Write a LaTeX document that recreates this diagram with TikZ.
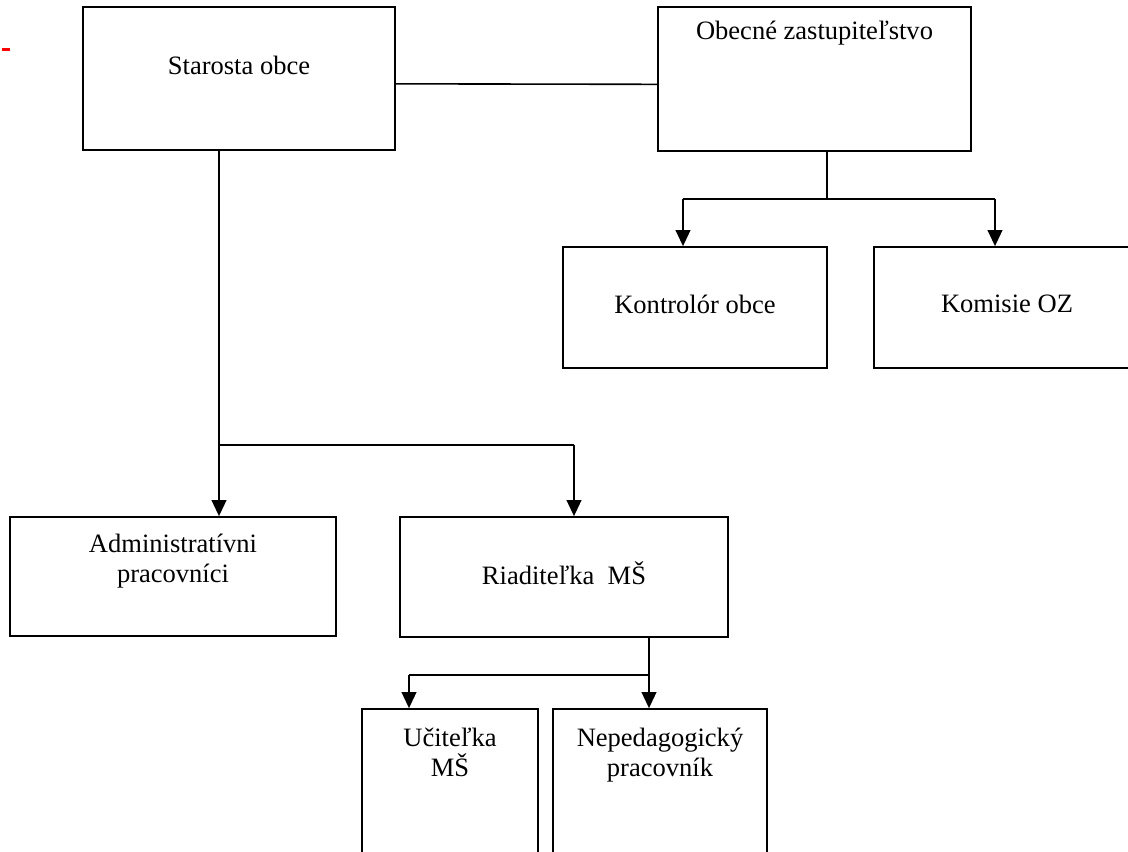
\documentclass[tikz,border=0pt]{standalone}
\usepackage{fontspec}
\setmainfont{Liberation Serif}
\usetikzlibrary{positioning}
\usetikzlibrary{arrows.meta}

\begin{document}
\begin{tikzpicture}[x=0.75pt, y=-0.75pt,
  box/.style = {draw, line width=1.3pt, inner sep=0pt},
  txt/.style = {inner sep=0pt, align=center, font=\fontsize{19.9}{22.5}\selectfont},
  arr/.style = {line width=1.4pt, -{Triangle[length=12pt, width=11pt]}},
  ln/.style = {line width=1.2pt}]
\clip (0,0) rectangle (1128,852);
% boxes
\node[box, minimum width=234pt, minimum height=107.25pt] (star) at (239,78.5) {};
\node[box, minimum width=234.75pt, minimum height=108pt] (obec) at (814.5,79) {};
\node[box, minimum width=198pt, minimum height=90.75pt] (kontr) at (695,307.5) {};
\node[box, minimum width=199.5pt, minimum height=90.75pt] (komis) at (1007,307.5) {};
\node[box, minimum width=244.5pt, minimum height=89.25pt] (adm) at (173,576.5) {};
\node[box, minimum width=246pt, minimum height=90pt] (riad) at (564,577) {};
\node[box, minimum width=132pt, minimum height=128.25pt] (ucit) at (450,794.5) {};
\node[box, minimum width=160.5pt, minimum height=128.25pt] (neped) at (660,794.5) {};
% texts
\node[txt, anchor=base] (starT) at (239,75) {Starosta obce};
\node[txt, anchor=base] (obecT) at (814.5,40) {Obecné zastupiteľstvo};
\node[txt, anchor=base] (kontrT) at (695,314) {Kontrolór obce};
\node[txt, anchor=base] (komisT) at (1007,313) {Komisie OZ};
\node[txt, anchor=north] (admT) at (173,534) {Administratívni\\pracovníci};
\node[txt, anchor=base] (riadT) at (564,584) {Riaditeľka\ \ MŠ};
\node[txt, anchor=north] (ucitT) at (450,727.5) {Učiteľka\\MŠ};
\node[txt, anchor=north] (nepedT) at (660,728) {Nepedagogický\\pracovník};
% junctions
\coordinate (sl) at (219,445);
\coordinate (sr) at (574,445);
\coordinate (oc) at (827,199);
\coordinate (ol) at (683,199);
\coordinate (or) at (995,199);
\coordinate (rc) at (649,675);
\coordinate (rl) at (409,675);
% connectors
\draw[ln] ([yshift=-4pt]star.east) -- ([yshift=-4pt]obec.west);
\draw[ln] (star.south -| sl) -- (sl) -- (sr);
\draw[arr] (sl) -- (sl |- adm.north);
\draw[arr] (sr) -- (sr |- riad.north);
\draw[ln] (obec.south -| oc) -- (oc);
\draw[ln] (ol) -- (or);
\draw[arr] (ol) -- (ol |- kontr.north);
\draw[arr] (or) -- (or |- komis.north);
\draw[arr] (riad.south -| rc) -- (rc |- neped.north);
\draw[ln] (rc) -- (rl);
\draw[arr] (rl) -- (rl |- ucit.north);
%\draw[red, line width=2pt] (2,49.5) -- (10,49.5);
\draw[red, line width=2pt] (2,49.5) -- (10,49.5);
\end{tikzpicture}
\end{document}
